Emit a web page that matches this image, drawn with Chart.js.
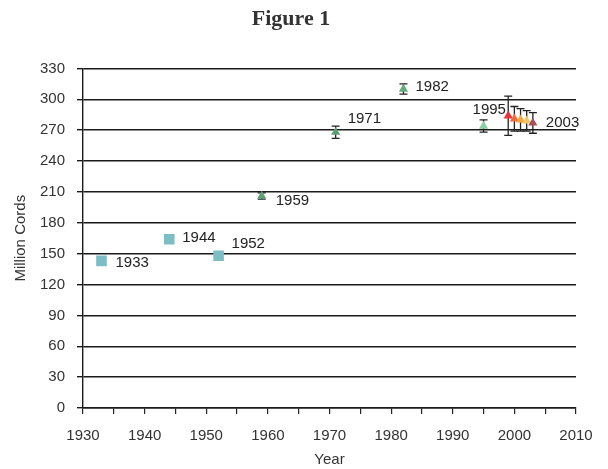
<!DOCTYPE html>
<html>
<head>
<meta charset="utf-8">
<script src="https://cdn.jsdelivr.net/npm/chart.js@4.4.1/dist/chart.umd.min.js"></script>
<style>
  html, body { margin: 0; padding: 0; background: #fff; }
  #wrap { width: 608px; height: 469px; }
</style>
</head>
<body>
<div id="wrap"><canvas id="c" width="608" height="469"></canvas></div>
<script>
// ---- data ----
const squareYears  = [1933, 1944, 1952];
const squareValues = [143, 164, 148];

const triYears  = [1959, 1971, 1982, 1995];
const triValues = [206, 268, 310, 274];
const triErrors = [3, 6, 5, 6];

const recentYears  = [1999, 2000, 2001, 2002, 2003];
const recentValues = [284, 281, 280, 279, 277];
const recentErrors = [19, 12, 11, 10, 10];

const yTicks = [0, 30, 60, 90, 120, 150, 180, 210, 240, 270, 300, 330];
const xTickLabels = [1930, 1940, 1950, 1960, 1970, 1980, 1990, 2000, 2010];

const labeledYears = [1933, 1944, 1952, 1959, 1971, 1982, 1995, 2003];

// ---- styles ----
const squareColor = '#7dbdc5';
const triColors = ['#5f9f72', '#5f9f72', '#62ad7c', '#8ccfa2'];
const recentColors = ['#e8323c', '#f06a3a', '#f5a444', '#f3c765', '#a8505a'];
// label offsets (px) relative to the point: [dx, dy, align]
const labelPlacement = {
  1933: [14, 2, 'left'], 1944: [13, -1, 'left'], 1952: [13, -12, 'left'],
  1959: [14, 5, 'left'], 1971: [12, -13, 'left'], 1982: [12, -2, 'left'],
  1995: [-11, -16, 'left'], 2003: [13, 0, 'left']
};

const FONT = '"Liberation Sans", Arial, sans-serif';

const toPts = (xs, ys) => xs.map((x, i) => ({ x: x, y: ys[i] }));

const errorBarPlugin = {
  id: 'errorBars',
  beforeDatasetsDraw(chart) {
    const ctx = chart.ctx;
    const ys = chart.scales.y;
    const sets = [[1, triErrors, triValues], [2, recentErrors, recentValues]];
    ctx.save();
    ctx.strokeStyle = '#222';
    ctx.lineWidth = 1.3;
    sets.forEach(([di, errs, vals]) => {
      const meta = chart.getDatasetMeta(di);
      meta.data.forEach((pt, j) => {
        const x = pt.x;
        const top = ys.getPixelForValue(vals[j] + errs[j]);
        const bot = ys.getPixelForValue(vals[j] - errs[j]);
        ctx.beginPath();
        ctx.moveTo(x, top); ctx.lineTo(x, bot);
        ctx.moveTo(x - 4, top); ctx.lineTo(x + 4, top);
        ctx.moveTo(x - 4, bot); ctx.lineTo(x + 4, bot);
        ctx.stroke();
      });
    });
    ctx.restore();
  }
};

const pointLabelPlugin = {
  id: 'pointLabels',
  afterDatasetsDraw(chart) {
    const ctx = chart.ctx;
    ctx.save();
    ctx.font = '15px ' + FONT;
    ctx.fillStyle = '#222';
    ctx.textBaseline = 'middle';
    const groups = [[0, squareYears], [1, triYears], [2, recentYears]];
    groups.forEach(([di, years]) => {
      const meta = chart.getDatasetMeta(di);
      years.forEach((yr, j) => {
        if (!labeledYears.includes(yr)) return;
        const pt = meta.data[j];
        const [dx, dy, al] = labelPlacement[yr];
        ctx.textAlign = al;
        ctx.fillText(String(yr), pt.x + dx, pt.y + dy);
      });
    });
    ctx.restore();
  }
};

new Chart(document.getElementById('c'), {
  type: 'scatter',
  data: {
    datasets: [
      {
        data: toPts(squareYears, squareValues),
        pointStyle: 'rect', pointRadius: 7.5, pointHoverRadius: 7.5,
        backgroundColor: squareColor, borderColor: squareColor, borderWidth: 0
      },
      {
        data: toPts(triYears, triValues),
        pointStyle: 'triangle', pointRadius: 5.3, pointHoverRadius: 5.3,
        backgroundColor: triColors, borderColor: triColors, borderWidth: 0
      },
      {
        data: toPts(recentYears, recentValues),
        pointStyle: 'triangle', pointRadius: 5.3, pointHoverRadius: 5.3,
        backgroundColor: recentColors, borderColor: recentColors, borderWidth: 0
      }
    ]
  },
  options: {
    responsive: false,
    animation: false,
    events: [],
    layout: { padding: { left: 6, right: 32, top: 0, bottom: 0 } },
    plugins: {
      legend: { display: false },
      tooltip: { enabled: false },
      title: {
        display: true, text: 'Figure 1', color: '#333',
        font: { family: '"Liberation Serif", "Times New Roman", serif', size: 22, weight: 'bold' },
        padding: { top: 6, bottom: 36 }
      }
    },
    scales: {
      x: {
        type: 'linear', min: 1930, max: 2010,
        afterFit: (s) => { s.height = 61; },
        afterBuildTicks: (s) => {
          const t = [];
          for (let v = 1930; v <= 2010; v += 5) t.push({ value: v });
          s.ticks = t;
        },
        ticks: {
          autoSkip: false, maxRotation: 0, color: '#333', padding: 13,
          font: { family: FONT, size: 15 },
          callback: (v) => xTickLabels.includes(v) ? String(v) : ''
        },
        grid: { drawOnChartArea: false, drawTicks: true, tickLength: 6, color: '#222', lineWidth: 1.2 },
        border: { display: true, color: '#1a1a1a', width: 1.4 },
        title: { display: true, text: 'Year', color: '#333', font: { family: FONT, size: 15 }, padding: { top: 0, bottom: 0 } }
      },
      y: {
        type: 'linear', min: 0, max: 330,
        afterFit: (s) => { s.width = 77; },
        afterBuildTicks: (s) => { s.ticks = yTicks.map(v => ({ value: v })); },
        ticks: { color: '#333', padding: 12, font: { family: FONT, size: 15 } },
        grid: { drawOnChartArea: true, drawTicks: true, tickLength: 6, color: '#1a1a1a', lineWidth: 1.4 },
        border: { display: true, color: '#1a1a1a', width: 1.4 },
        title: { display: true, text: 'Million Cords', color: '#333', font: { family: FONT, size: 15 }, padding: { top: 6, bottom: 0 } }
      }
    }
  },
  plugins: [errorBarPlugin, pointLabelPlugin]
});
</script>
</body>
</html>
